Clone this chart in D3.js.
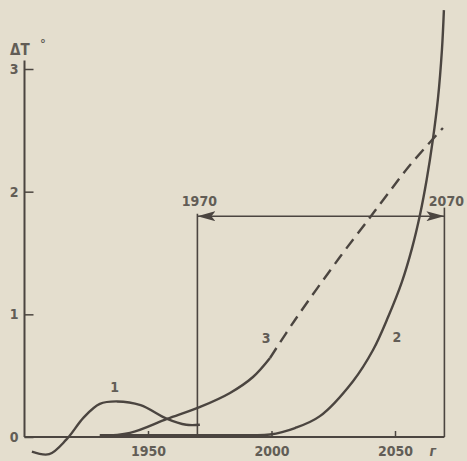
<!DOCTYPE html>
<html>
<head>
<meta charset="utf-8">
<script src="https://cdn.jsdelivr.net/npm/d3@7"></script>
<style>
  html, body { margin: 0; padding: 0; background: #e4dece; }
  svg { display: block; }
  text { font-family: "DejaVu Sans Condensed", "Liberation Sans Narrow", "DejaVu Sans", sans-serif; fill: #625d56; }
</style>
</head>
<body>
<script>
// Curve 1: observed temperature anomaly
const curve1 = [
  [1903, -0.12], [1910, -0.14], [1917, -0.02], [1924, 0.16], [1930.5, 0.27],
  [1937.5, 0.29], [1947, 0.26], [1957.5, 0.15], [1965.5, 0.1], [1971, 0.1]
];
// Curve 2: exponential growth scenario
const curve2 = [
  [1930.5, 0.015], [1960, 0.015], [1990, 0.015], [1999.4, 0.02], [2009.5, 0.073],
  [2019.6, 0.17], [2033, 0.455], [2041.1, 0.709], [2047.2, 0.978], [2052.8, 1.265],
  [2056.9, 1.54], [2060.1, 1.81], [2062.8, 2.095], [2065.3, 2.42], [2067.4, 2.76],
  [2069, 3.155], [2069.8, 3.48]
];
// Curve 3: solid part up to 2000, dashed projection afterwards
const curve3Solid = [
  [1930.5, 0.01], [1942.7, 0.033], [1957.7, 0.147], [1971.1, 0.245],
  [1983.2, 0.359], [1992.5, 0.489], [1999.4, 0.644]
];
const curve3Dashed = [
  [1999.4, 0.644], [2009.5, 0.954], [2027.7, 1.467], [2039.1, 1.769],
  [2045.2, 1.932], [2056.1, 2.217], [2069.4, 2.519]
];
const xTicks = [1950, 2000, 2050];
const yTicks = [0, 1, 2, 3];
const spanYears = [1970, 2070];
const curveLabels = [
  { text: "1", year: 1936.5, value: 0.37 },
  { text: "3", year: 1997.8, value: 0.77 },
  { text: "2", year: 2050.8, value: 0.775 }
];

const W = 467, H = 461;
const ink = "#4b4540";
const textInk = "#625d56";

const x = d3.scaleLinear([1900, 2070], [24.5, 444.4]);
const y = d3.scaleLinear([0, 3], [437, 69]);

const svg = d3.select("body").append("svg").attr("width", W).attr("height", H);
svg.append("rect").attr("width", W).attr("height", H).attr("fill", "#e4dece");

const defs = svg.append("defs");
defs.append("marker").attr("id", "arr").attr("viewBox", "0 0 18 10")
  .attr("refX", 18).attr("refY", 5).attr("markerWidth", 18).attr("markerHeight", 10)
  .attr("markerUnits", "userSpaceOnUse").attr("orient", "auto-start-reverse")
  .append("path").attr("d", "M0,0 L18,5 L0,10 L4,5 Z").attr("fill", ink);

// Axes
const xAxis = d3.axisBottom(x).tickValues(xTicks).tickFormat(d3.format("d"))
  .tickSizeInner(-6).tickSizeOuter(0).tickPadding(9);
const gx = svg.append("g").attr("transform", `translate(0,${y(0)})`).call(xAxis);
gx.select(".domain").remove();
gx.selectAll(".tick line").attr("stroke", ink).attr("stroke-width", 1.5);
gx.selectAll(".tick text").attr("font-size", 14).attr("font-weight", "bold")
  .attr("font-family", null).style("fill", textInk);

const yAxis = d3.axisLeft(y).tickValues(yTicks).tickFormat(d3.format("d"))
  .tickSizeInner(-9).tickSizeOuter(0).tickPadding(6);
const gy = svg.append("g").attr("transform", `translate(${x(1900)},0)`).call(yAxis);
gy.select(".domain").remove();
gy.selectAll(".tick line").attr("stroke", ink).attr("stroke-width", 1.5);
gy.selectAll(".tick text").attr("font-size", 14).attr("font-weight", "bold")
  .attr("font-family", null).style("fill", textInk);

// Axis lines
svg.append("line").attr("x1", x(1900)).attr("x2", x(2070)).attr("y1", y(0)).attr("y2", y(0))
  .attr("stroke", ink).attr("stroke-width", 2);
svg.append("line").attr("x1", x(1900)).attr("x2", x(1900)).attr("y1", y(0)).attr("y2", y(3.07))
  .attr("stroke", ink).attr("stroke-width", 2);

// Axis titles
svg.append("text").attr("x", 10).attr("y", 55).attr("font-size", 15).attr("font-weight", "bold").text("ΔT");
svg.append("text").attr("x", 40).attr("y", 48).attr("font-size", 13).attr("font-weight", "bold").text("°");
svg.append("text").attr("x", x(2064)).attr("y", 456).attr("font-size", 14)
  .attr("font-style", "italic").attr("font-weight", "bold").text("г");

// Forecast interval 1970–2070
svg.append("line").attr("x1", x(spanYears[0])).attr("x2", x(spanYears[0]))
  .attr("y1", y(0)).attr("y2", y(1.82)).attr("stroke", ink).attr("stroke-width", 1.6);
svg.append("line").attr("x1", x(spanYears[1])).attr("x2", x(spanYears[1]))
  .attr("y1", y(0)).attr("y2", y(1.87)).attr("stroke", ink).attr("stroke-width", 1.6);
svg.append("line").attr("x1", x(spanYears[0])).attr("x2", x(spanYears[1]))
  .attr("y1", y(1.8)).attr("y2", y(1.8)).attr("stroke", ink).attr("stroke-width", 1.6)
  .attr("marker-start", "url(#arr)").attr("marker-end", "url(#arr)");
svg.selectAll(".span-label").data(spanYears).join("text").attr("class", "span-label")
  .attr("x", d => x(d) + 2).attr("y", y(1.86) - 3).attr("text-anchor", "middle")
  .attr("font-size", 14).attr("font-weight", "bold").text(d => d);

// Curves
const smooth = d3.line().x(d => x(d[0])).y(d => y(d[1])).curve(d3.curveCatmullRom.alpha(0.5));
const curves = [
  { data: curve1, dash: null },
  { data: curve2, dash: null },
  { data: curve3Solid, dash: null },
  { data: curve3Dashed, dash: "12,7" }
];
svg.selectAll(".curve").data(curves).join("path").attr("class", "curve")
  .attr("d", d => smooth(d.data)).attr("fill", "none").attr("stroke", ink)
  .attr("stroke-width", 2.4).attr("stroke-linecap", "butt")
  .attr("stroke-dasharray", d => d.dash);

svg.selectAll(".clabel").data(curveLabels).join("text").attr("class", "clabel")
  .attr("x", d => x(d.year)).attr("y", d => y(d.value)).attr("text-anchor", "middle")
  .attr("font-size", 14).attr("font-weight", "bold").text(d => d.text);
</script>
</body>
</html>
